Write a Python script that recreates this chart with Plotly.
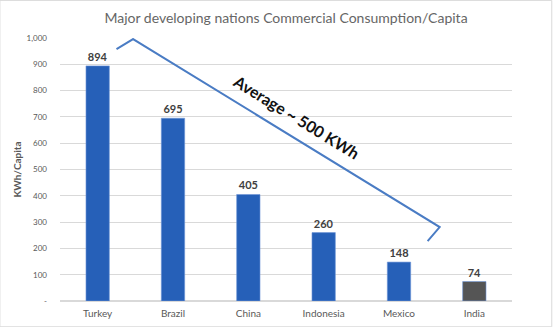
import plotly.graph_objects as go

countries = ["Turkey", "Brazil", "China", "Indonesia", "Mexico", "India"]
kwh_per_capita = [894, 695, 405, 260, 148, 74]
bar_colors = ["#2660B8", "#2660B8", "#2660B8", "#2660B8", "#2660B8", "#555555"]
y_ticks = [0, 100, 200, 300, 400, 500, 600, 700, 800, 900, 1000]
y_tick_labels = ["-", "100", "200", "300", "400", "500", "600", "700", "800", "900", "1,000"]

fig = go.Figure()
fig.add_trace(go.Bar(
    x=countries, y=kwh_per_capita,
    marker=dict(color=bar_colors, line=dict(color="#6f95d6", width=0.6)),
    width=0.31,
    text=["<b>%d</b>" % v for v in kwh_per_capita], textposition="outside",
    textfont=dict(family="Lato", size=11, color="#404040"),
    cliponaxis=False,
))

# Annotation polyline (category index / value coordinates)
fig.add_shape(type="path",
              path="M 0.25 958 L 0.47 996 L 4.54 281 L 4.38 228",
              xref="x", yref="y", line=dict(color="#4a7cc4", width=2))
fig.add_annotation(x=2.63, y=700, xref="x", yref="y",
                   text="<b>Average ~ 500 KWh</b>", showarrow=False,
                   textangle=31.5,
                   font=dict(family="Lato", size=16, color="#111111"))

# outer border
fig.add_shape(type="rect", xref="paper", yref="paper",
              x0=-0.133, x1=1.088, y0=-0.098, y1=1.143,
              line=dict(color="#d9d9d9", width=1))

fig.update_layout(
    width=553, height=327,
    margin=dict(l=60, r=41, t=38, b=26),
    paper_bgcolor="white", plot_bgcolor="white",
    showlegend=False,
    bargap=0.69,
    title=dict(text="Major developing nations Commercial Consumption/Capita",
               x=0.5, xref="paper", y=0.945, yanchor="middle",
               font=dict(family="Lato", size=14, color="#666666")),
    font=dict(family="Lato"),
)
fig.update_xaxes(showgrid=False, showline=False, ticks="", automargin=False,
                 ticklabelstandoff=5,
                 tickfont=dict(family="Lato", size=10, color="#595959"))
fig.update_yaxes(range=[0, 1000], tickvals=y_ticks, ticktext=y_tick_labels,
                 showgrid=True, gridcolor="#d9d9d9", gridwidth=1,
                 zeroline=True, zerolinecolor="#d9d9d9", automargin=False,
                 ticks="", ticklabelstandoff=12,
                 tickfont=dict(family="Lato", size=8, color="#595959"),
                 title=dict(text="<b>KWh/Capita</b>", standoff=3,
                            font=dict(family="Lato", size=10, color="#595959")))

fig.write_html("out.html")
